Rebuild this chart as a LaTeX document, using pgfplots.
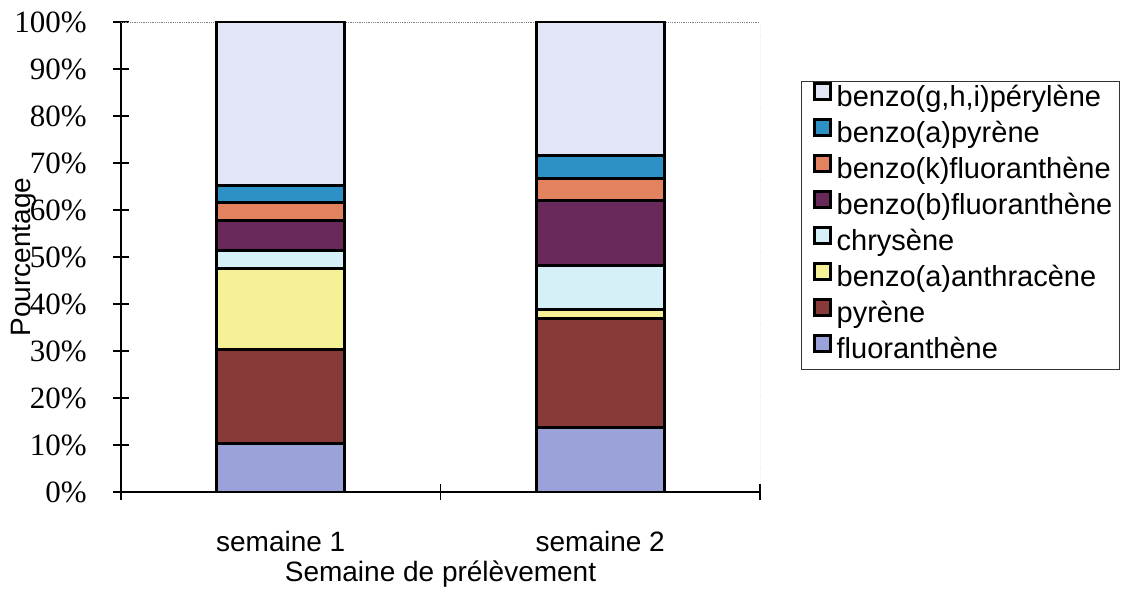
\documentclass[border=0pt]{standalone}
\usepackage{fontspec}
\setmainfont{Liberation Serif}
\setsansfont{Liberation Sans}
\usepackage{pgfplots}
\pgfplotsset{compat=1.18}
\definecolor{cFl}{RGB}{155,162,218}
\definecolor{cPy}{RGB}{135,58,55}
\definecolor{cBaA}{RGB}{246,240,150}
\definecolor{cChr}{RGB}{214,240,248}
\definecolor{cBbF}{RGB}{105,40,90}
\definecolor{cBkF}{RGB}{226,130,95}
\definecolor{cBaP}{RGB}{45,145,198}
\definecolor{cGhi}{RGB}{226,229,246}
\pgfplotsset{bstyle/.style={draw=black, line width=3pt, fill=#1}}
\begin{document}
\begin{tikzpicture}
\useasboundingbox (-121pt,-97pt) rectangle (1002pt,492pt);
\begin{axis}[
  at={(0pt,0pt)}, anchor=south west,
  scale only axis, width=639pt, height=470pt,
  ybar stacked, bar width=128pt,
  xmin=-0.5, xmax=1.5, ymin=0, ymax=100,
  axis x line*=bottom, axis y line*=left,
  axis line style={black, line width=1.2pt, -},
  /pgf/number format/assume math mode=true,
  ytick={0,10,...,100},
  yticklabel={\pgfmathprintnumber{\tick}\%},
  yticklabel style={font=\fontsize{31}{31}\selectfont, anchor=east, inner sep=0pt, xshift=-26pt},
  xtick={0,1},
  xticklabels={semaine 1, semaine 2},
  xticklabel style={font=\sffamily\fontsize{28}{28}\selectfont, anchor=base, inner sep=0pt, yshift=-51pt},
  xtick style={draw=none},
  extra x ticks={-0.5,0.5,1.5},
  extra x tick labels={},
  extra x tick style={xtick style={draw=black, line width=1.2pt}},
  tick align=center,
  major tick length=16pt,
  ytick style={black, line width=1.2pt},
  xlabel={Semaine de prélèvement},
  xlabel style={font=\sffamily\fontsize{28}{28}\selectfont, at={(axis description cs:0.5,0)}, anchor=base, inner sep=0pt, yshift=-89pt},
  ylabel={Pourcentage},
  ylabel style={font=\sffamily\fontsize{28}{28}\selectfont, at={(axis description cs:-0.152,0.5)}, anchor=center, inner sep=0pt},
  reverse legend,
  legend cell align=left,
  legend style={at={(axis description cs:1.0642,0.8745)}, anchor=north west,
    draw=black!80, line width=0.8pt, inner xsep=2pt, inner ysep=0pt, row sep=0pt,
    font=\sffamily\fontsize{29}{29}\selectfont,
    nodes={text height=22pt, text depth=7pt, inner ysep=3.5pt, inner xsep=5pt}},
  legend image code/.code={\path[draw=none, fill=none] (0pt,0pt) -- (10pt,0pt);
    \draw[#1, draw=black, line width=2.5pt] (11pt,0pt) rectangle (27pt,16pt);},
]
\addplot[bstyle=cFl] coordinates {(0,10.4) (1,13.8)};
\addplot[bstyle=cPy] coordinates {(0,20.0) (1,23.2)};
\addplot[bstyle=cBaA] coordinates {(0,17.2) (1,1.9)};
\addplot[bstyle=cChr] coordinates {(0,3.7) (1,9.2)};
\addplot[bstyle=cBbF] coordinates {(0,6.4) (1,13.9)};
\addplot[bstyle=cBkF] coordinates {(0,3.9) (1,4.7)};
\addplot[bstyle=cBaP] coordinates {(0,3.7) (1,5.0)};
\addplot[bstyle=cGhi] coordinates {(0,34.7) (1,28.3)};
\legend{fluoranthène, pyrène, benzo(a)anthracène, chrysène, benzo(b)fluoranthène, benzo(k)fluoranthène, benzo(a)pyrène, benzo(g{,}h{,}i)pérylène}
\draw[gray, densely dotted, line width=0.8pt] (rel axis cs:0,1) -- (rel axis cs:1,1) -- (rel axis cs:1,0);
\end{axis}
\end{tikzpicture}
\end{document}
